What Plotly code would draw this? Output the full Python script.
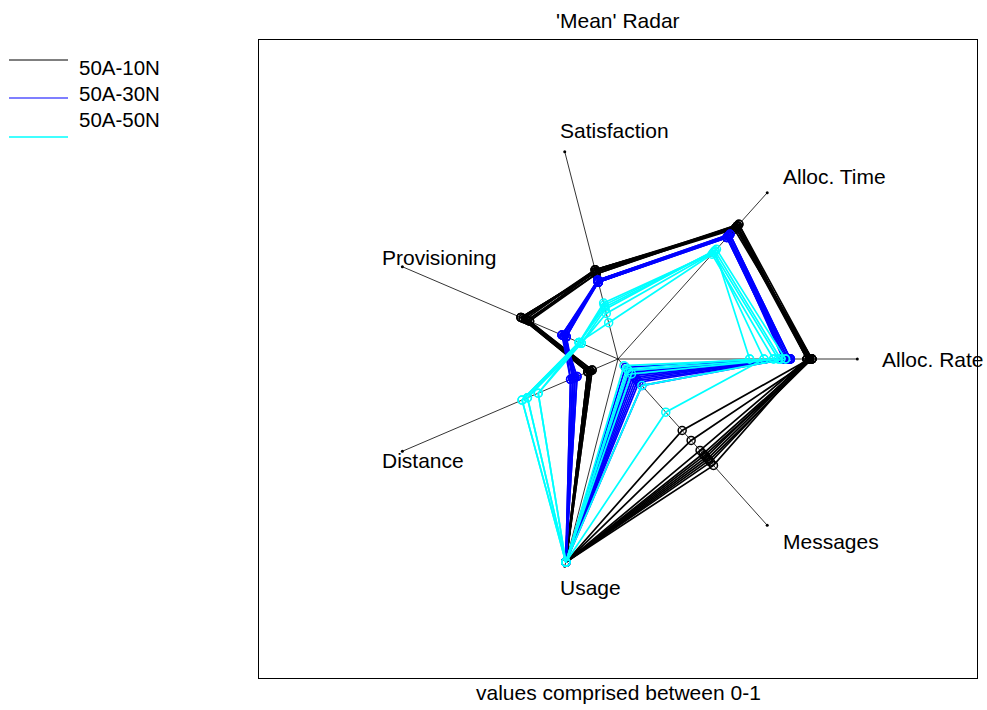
import math
import plotly.graph_objects as go

# ---------------- data ----------------
axis_labels = ["Alloc. Rate", "Alloc. Time", "Satisfaction", "Provisioning",
               "Distance", "Usage", "Messages"]

group_names = ["50A-10N", "50A-30N", "50A-50N"]
group_colors = ["#000000", "#0000FF", "#00FFFF"]

# each row: [Alloc. Rate, Alloc. Time, Satisfaction, Provisioning, Distance, Usage, Messages]
runs_10N = [
    [0.80, 0.80, 0.42, 0.45, 0.13, 0.98, 0.43],
    [0.81, 0.79, 0.43, 0.44, 0.14, 0.98, 0.49],
    [0.79, 0.81, 0.42, 0.42, 0.13, 0.98, 0.55],
    [0.80, 0.80, 0.41, 0.41, 0.12, 0.98, 0.57],
    [0.81, 0.78, 0.42, 0.45, 0.14, 0.98, 0.58],
    [0.79, 0.79, 0.43, 0.43, 0.13, 0.98, 0.59],
    [0.80, 0.80, 0.42, 0.44, 0.13, 0.98, 0.60],
    [0.81, 0.81, 0.41, 0.42, 0.12, 0.98, 0.61],
    [0.80, 0.79, 0.42, 0.45, 0.14, 0.98, 0.62],
    [0.79, 0.80, 0.43, 0.41, 0.13, 0.98, 0.64],
]

runs_30N = [
    [0.71, 0.74, 0.38, 0.25, 0.21, 0.98, 0.05],
    [0.72, 0.75, 0.37, 0.24, 0.20, 0.98, 0.07],
    [0.70, 0.73, 0.38, 0.26, 0.22, 0.98, 0.08],
    [0.69, 0.74, 0.37, 0.25, 0.19, 0.98, 0.09],
    [0.72, 0.75, 0.38, 0.24, 0.21, 0.98, 0.10],
    [0.71, 0.73, 0.37, 0.26, 0.20, 0.98, 0.11],
    [0.70, 0.74, 0.38, 0.25, 0.22, 0.98, 0.12],
    [0.72, 0.74, 0.37, 0.25, 0.20, 0.98, 0.13],
    [0.71, 0.75, 0.38, 0.24, 0.21, 0.98, 0.14],
    [0.70, 0.73, 0.37, 0.26, 0.19, 0.98, 0.16],
]

runs_50N = [
    [0.55, 0.65, 0.26, 0.18, 0.445, 0.98, 0.06],
    [0.61, 0.64, 0.22, 0.17, 0.42, 0.98, 0.32],
    [0.65, 0.63, 0.175, 0.18, 0.37, 0.98, 0.04],
    [0.68, 0.65, 0.25, 0.18, 0.445, 0.98, 0.09],
    [0.70, 0.66, 0.24, 0.17, 0.37, 0.98, 0.16],
    [0.67, 0.64, 0.27, 0.18, 0.42, 0.98, 0.07],
]

groups = [runs_10N, runs_30N, runs_50N]

title_text = "'Mean' Radar"
xlabel_text = "values comprised between 0-1"

# ---------------- figure ----------------
FONT = "Liberation Sans, Arial, sans-serif"
n = len(axis_labels)
angles = [2 * math.pi * k / n for k in range(n)]

fig = go.Figure()

# spokes
for th in angles:
    fig.add_trace(go.Scatter(
        x=[0, math.cos(th)], y=[0, math.sin(th)], mode="lines",
        line=dict(color="#000000", width=0.8), hoverinfo="skip", showlegend=False))
fig.add_trace(go.Scatter(
    x=[math.cos(th) for th in angles], y=[math.sin(th) for th in angles],
    mode="markers", marker=dict(color="#000000", size=3),
    hoverinfo="skip", showlegend=False))

# data polygons
for runs, name, col in zip(groups, group_names, group_colors):
    for row in runs:
        vals = row + row[:1]
        ths = angles + angles[:1]
        fig.add_trace(go.Scatter(
            x=[v * math.cos(t) for v, t in zip(vals, ths)],
            y=[v * math.sin(t) for v, t in zip(vals, ths)],
            mode="lines+markers", name=name,
            line=dict(color=col, width=1.7),
            marker=dict(symbol="circle-open", size=8, color=col, line=dict(width=1.5, color=col)),
            showlegend=False))

annotations = []
for lab, th in zip(axis_labels, angles):
    annotations.append(dict(
        x=1.1 * math.cos(th), y=1.1 * math.sin(th), xref="x", yref="y",
        text=lab, showarrow=False, xanchor="left", yanchor="middle", xshift=-1,
        font=dict(family=FONT, size=21, color="#000000")))

# manual legend (paper coords, plot area on screen 259..977 x 40..678 px)
def px_x(p):
    return (p - 259) / 718.0

def px_y(p):
    return (678 - p) / 638.0

legend_line_y = [60, 98, 137]
legend_text_y = [67, 93, 120]
legend_widths = [1, 1.2, 1.5]
shapes = []
for name, col, ly, ty, w in zip(group_names, group_colors, legend_line_y, legend_text_y, legend_widths):
    shapes.append(dict(type="line", xref="paper", yref="paper",
                       x0=px_x(9), x1=px_x(68), y0=px_y(ly), y1=px_y(ly),
                       line=dict(color=col, width=w)))
    annotations.append(dict(x=px_x(77), y=px_y(ty), xref="paper", yref="paper",
                            text=name, showarrow=False, xanchor="left", yanchor="middle",
                            font=dict(family=FONT, size=20.5, color="#000000")))

annotations.append(dict(x=0.5, y=px_y(20), xref="paper", yref="paper", text=title_text,
                        showarrow=False, xanchor="center", yanchor="middle",
                        font=dict(family=FONT, size=21, color="#000000")))
annotations.append(dict(x=0.5, y=px_y(692), xref="paper", yref="paper", text=xlabel_text,
                        showarrow=False, xanchor="center", yanchor="middle",
                        font=dict(family=FONT, size=21, color="#000000")))

axis_style = dict(showgrid=False, zeroline=False, showticklabels=False, ticks="",
                  showline=True, mirror=True, linecolor="#000000", linewidth=1,
                  range=[-1.5, 1.5], fixedrange=True)

fig.update_layout(
    width=987, height=710,
    margin=dict(l=259, r=10, t=40, b=32),
    plot_bgcolor="#FFFFFF", paper_bgcolor="#FFFFFF",
    xaxis=axis_style, yaxis=axis_style,
    showlegend=False, hovermode=False,
    annotations=annotations, shapes=shapes,
    font=dict(family=FONT, color="#000000"),
)

# remove the default 8px page margin so the 987x710 figure fills the window exactly
fig.write_html("out.html",
               config={"displayModeBar": False},
               post_script="document.body.style.margin='0';document.body.style.overflow='hidden';")
